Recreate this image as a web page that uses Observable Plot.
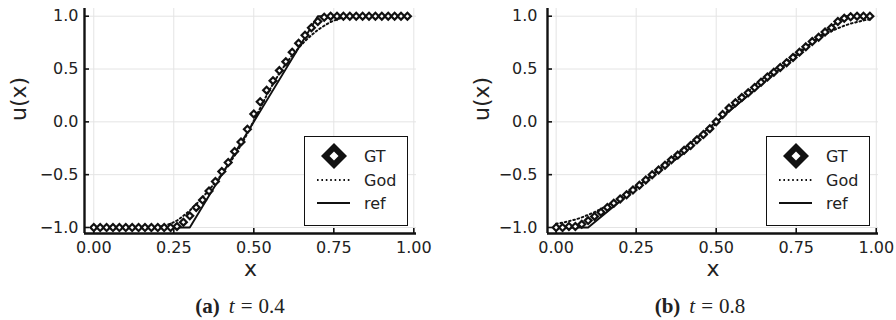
<!DOCTYPE html>
<html><head><meta charset="utf-8">
<script src="https://cdn.jsdelivr.net/npm/d3@7"></script>
<script src="https://cdn.jsdelivr.net/npm/@observablehq/plot@0.6"></script>
<style>
body{margin:0;background:#fff;}
#wrap{position:relative;width:896px;height:320px;overflow:hidden;}
.panel{position:absolute;top:0;width:448px;height:320px;}
.panel svg.plot{position:absolute;left:0;top:0;}
.legend{position:absolute;top:136px;width:104px;height:90px;background:#fff;border:1.8px solid #111;box-sizing:border-box;}
.legend svg{position:absolute;left:0;top:0;}
.caption{position:absolute;top:294px;left:0;width:448px;text-align:center;font-family:"Liberation Serif";font-size:21px;color:#222;white-space:nowrap;}
.caption b{margin-right:9px;}
.caption i{margin-right:6px;}
.caption .eq{margin-right:6px;}
</style>
</head>
<body>
<div id="wrap"></div>
<script>
// sample positions of GT / God
const xs = [0.00,0.02,0.04,0.06,0.08,0.10,0.12,0.14,0.16,0.18,
            0.20,0.22,0.24,0.26,0.28,0.30,0.32,0.34,0.36,0.38,
            0.40,0.42,0.44,0.46,0.48,0.50,0.52,0.54,0.56,0.58,
            0.60,0.62,0.64,0.66,0.68,0.70,0.72,0.74,0.76,0.78,
            0.80,0.82,0.84,0.86,0.88,0.90,0.92,0.94,0.96,0.98];

const xTicks = [0, 0.25, 0.5, 0.75, 1];
const yTicks = [-1, -0.5, 0, 0.5, 1];
const seriesNames = ["GT", "God", "ref"];

// panel (a) t = 0.4
const gtA = [-1,-1,-1,-1,-1,-1,-1,-1,-1,-1,
             -1,-1,-1,-0.99,-0.95,-0.89,-0.81,-0.74,-0.655,-0.565,
             -0.47,-0.385,-0.28,-0.19,-0.07,0.075,0.19,0.30,0.39,0.485,
             0.57,0.66,0.745,0.82,0.89,0.95,0.99,1,1,1,
             1,1,1,1,1,1,1,1,1,1];
const godA = [-1,-1,-1,-1,-1,-1,-1,-1,-1,-1,
              -0.995,-0.985,-0.965,-0.935,-0.89,-0.84,-0.78,-0.715,-0.645,-0.57,
              -0.495,-0.41,-0.32,-0.22,-0.11,0.01,0.13,0.25,0.36,0.46,
              0.55,0.63,0.70,0.765,0.82,0.87,0.91,0.945,0.97,0.99,
              0.997,1,1,1,1,1,1,1,1,1];
const refAx = [0, 0.3, 0.7, 0.98];
const refAy = [-1, -1, 1, 1];

// panel (b) t = 0.8
const gtB = [-1,-1,-0.99,-0.99,-0.97,-0.935,-0.895,-0.855,-0.81,-0.77,
             -0.73,-0.69,-0.645,-0.60,-0.55,-0.50,-0.455,-0.41,-0.36,-0.315,
             -0.27,-0.225,-0.17,-0.12,-0.065,0.0,0.07,0.13,0.18,0.23,
             0.275,0.325,0.375,0.425,0.47,0.515,0.56,0.61,0.66,0.71,
             0.76,0.80,0.85,0.89,0.95,0.98,0.995,1,1,1];
const godB = [-0.965,-0.955,-0.94,-0.925,-0.905,-0.88,-0.855,-0.825,-0.79,-0.755,
              -0.715,-0.675,-0.635,-0.595,-0.555,-0.515,-0.47,-0.43,-0.385,-0.34,
              -0.295,-0.245,-0.195,-0.14,-0.08,-0.015,0.05,0.12,0.185,0.24,
              0.29,0.345,0.395,0.445,0.49,0.535,0.58,0.625,0.67,0.71,
              0.75,0.79,0.825,0.86,0.885,0.91,0.93,0.945,0.96,0.97];
const refBx = [0, 0.1, 0.9, 0.98];
const refBy = [-1, -1, 1, 1];

const captions = [["(a)", "t", "0.4"], ["(b)", "t", "0.8"]];

const ink = "#111";
const yDom = [-1.057, 1.073];

function makePlot(gt, god, refX, refY, ml, mr, xDom, yPad) {
  const pts = xs.map((x, i) => ({x, gt: gt[i], god: god[i]}));
  const ref = refX.map((x, i) => ({x, y: refY[i]}));
  const svg = Plot.plot({
    width: 448, height: 290,
    marginLeft: ml, marginRight: mr, marginTop: 8, marginBottom: 57,
    x: {domain: xDom},
    y: {domain: yDom},
    style: {fontFamily: "DejaVu Sans", fontSize: "16px", color: "#222", background: "transparent", overflow: "visible"},
    marks: [
      Plot.gridX(xTicks, {stroke: "#e4e4e4", strokeOpacity: 1, strokeWidth: 1}),
      Plot.gridY(yTicks, {stroke: "#e4e4e4", strokeOpacity: 1, strokeWidth: 1}),
      Plot.axisX(xTicks, {tickSize: -5, tickFormat: () => "", label: null, stroke: ink, strokeWidth: 1.6}),
      Plot.axisX(xTicks, {tickSize: 0, tickPadding: 8, tickFormat: d3.format(".2f"), label: null, fill: "#222"}),
      Plot.axisY(yTicks, {tickSize: -5, tickFormat: () => "", label: null, stroke: ink, strokeWidth: 1.6}),
      Plot.axisY(yTicks, {tickSize: 0, tickPadding: yPad, tickFormat: d3.format(".1f"), label: null, fill: "#222"}),
      Plot.ruleX([xDom[0]], {stroke: ink, strokeWidth: 2.4}),
      Plot.ruleY([yDom[0]], {stroke: ink, strokeWidth: 2.4}),
      Plot.line(ref, {x: "x", y: "y", stroke: ink, strokeWidth: 1.9}),
      Plot.line(pts, {x: "x", y: "god", stroke: ink, strokeWidth: 2, strokeDasharray: "1.6,2.8"}),
      Plot.dot(pts, {x: "x", y: "gt", symbol: "diamond2", r: 3.1, stroke: ink, fill: "#fff", strokeWidth: 2.2}),
      Plot.text(["x"], {frameAnchor: "bottom", dy: 42, fontSize: 22, fill: "#222"}),
      Plot.text(["u(x)"], {frameAnchor: "left", dx: -66, rotate: -90, fontSize: 22, fill: "#222"})
    ]
  });
  svg.classList.add("plot");
  return svg;
}

function makeLegend(left) {
  const div = document.createElement("div");
  div.className = "legend";
  div.style.left = left + "px";
  const NS = "http://www.w3.org/2000/svg";
  const s = document.createElementNS(NS, "svg");
  s.setAttribute("width", 104); s.setAttribute("height", 90);
  const rows = [19, 43, 66];
  seriesNames.forEach((name, i) => {
    const y = rows[i];
    if (name === "GT") {
      const outer = document.createElementNS(NS, "path");
      outer.setAttribute("d", `M29,${y-13}L42,${y}L29,${y+13}L16,${y}Z`);
      outer.setAttribute("fill", ink);
      s.appendChild(outer);
      const inner = document.createElementNS(NS, "path");
      inner.setAttribute("d", `M29,${y-4.5}L33.5,${y}L29,${y+4.5}L24.5,${y}Z`);
      inner.setAttribute("fill", "#fff");
      s.appendChild(inner);
    } else {
      const l = document.createElementNS(NS, "line");
      l.setAttribute("x1", 12); l.setAttribute("x2", 45);
      l.setAttribute("y1", y); l.setAttribute("y2", y);
      l.setAttribute("stroke", ink);
      l.setAttribute("stroke-width", 2);
      if (name === "God") l.setAttribute("stroke-dasharray", "1.6,2.8");
      s.appendChild(l);
    }
    const t = document.createElementNS(NS, "text");
    t.setAttribute("x", 59); t.setAttribute("y", y);
    t.setAttribute("dy", "0.36em");
    t.setAttribute("font-family", "DejaVu Sans");
    t.setAttribute("font-size", 16);
    t.setAttribute("fill", "#222");
    t.textContent = name;
    s.appendChild(t);
  });
  div.appendChild(s);
  return div;
}

function makeCaption(c, shift) {
  const d = document.createElement("div");
  d.className = "caption";
  d.style.left = shift + "px";
  d.innerHTML = `<b>${c[0]}</b><i>${c[1]}</i><span class="eq">=</span>${c[2]}`;
  return d;
}

const wrap = document.getElementById("wrap");
const configs = [
  {left: 0, gt: gtA, god: godA, rx: refAx, ry: refAy, ml: 84, mr: 32, xDom: [-0.029, 1.0084], yPad: 6, leg: 304, cap: captions[0], cs: 16},
  {left: 448, gt: gtB, god: godB, rx: refBx, ry: refBy, ml: 99, mr: 18, xDom: [-0.027, 1.007], yPad: 10, leg: 318, cap: captions[1], cs: 28}
];
configs.forEach(cfg => {
  const p = document.createElement("div");
  p.className = "panel";
  p.style.left = cfg.left + "px";
  p.appendChild(makePlot(cfg.gt, cfg.god, cfg.rx, cfg.ry, cfg.ml, cfg.mr, cfg.xDom, cfg.yPad));
  p.appendChild(makeLegend(cfg.leg));
  p.appendChild(makeCaption(cfg.cap, cfg.cs));
  wrap.appendChild(p);
});
</script>
</body></html>
